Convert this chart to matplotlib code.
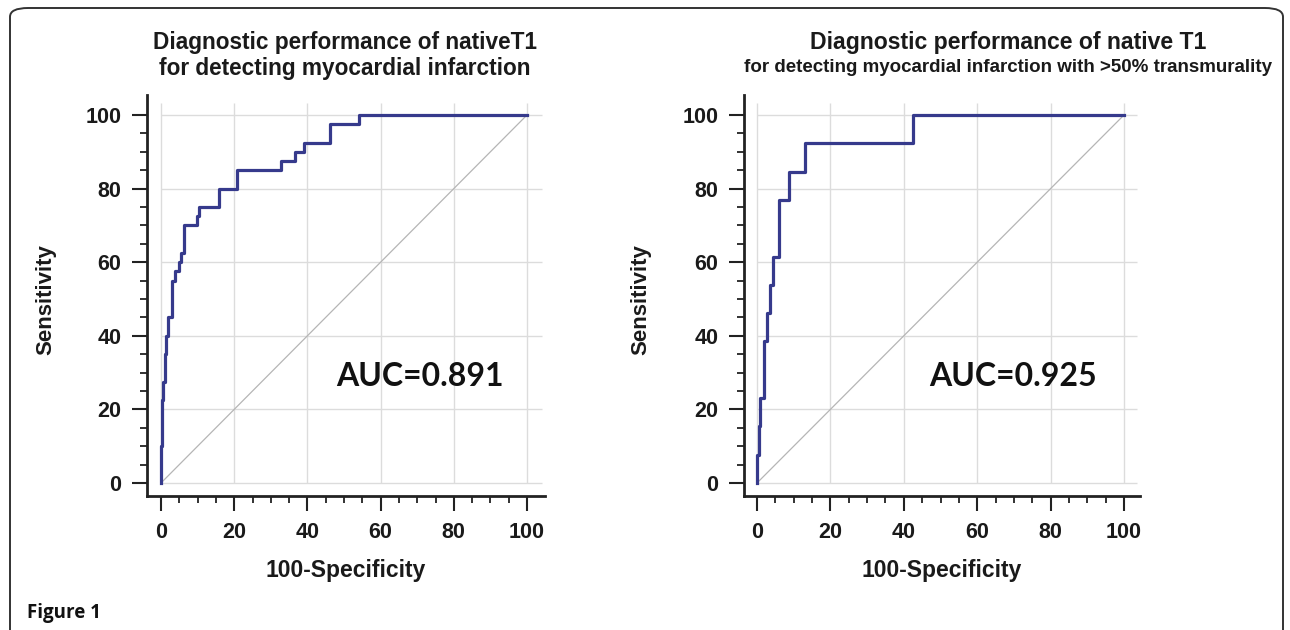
import matplotlib
matplotlib.use("Agg")
import matplotlib.pyplot as plt
from matplotlib.patches import FancyBboxPatch

# ROC operating points (100-Specificity, Sensitivity)
left_fpr = [0, 0.3, 0.5, 1.1, 1.4, 1.8, 3.1, 3.9, 5.0, 5.5, 6.4, 9.9, 10.5,
            15.9, 20.9, 32.9, 36.5, 39.1, 46.3, 54.0, 100]
left_tpr = [0, 10, 22.5, 27.5, 35, 40, 45, 55, 57.5, 60, 62.5, 70, 72.5,
            75, 80, 85, 87.5, 90, 92.5, 97.5, 100]

right_fpr = [0, 0.45, 0.9, 1.8, 2.7, 3.6, 4.3, 5.9, 8.8, 13.2, 42.5, 100]
right_tpr = [0, 7.7, 15.4, 23.1, 38.5, 46.2, 53.8, 61.5, 76.9, 84.6, 92.3, 100]

left_title = ["Diagnostic performance of nativeT1",
              "for detecting myocardial infarction"]
right_title = ["Diagnostic performance of native T1",
               "for detecting myocardial infarction with >50% transmurality"]
left_auc = "AUC=0.891"
right_auc = "AUC=0.925"

ticks = [0, 20, 40, 60, 80, 100]
minor = list(range(0, 101, 5))

W, H = 1290, 630
fig = plt.figure(figsize=(W / 100, H / 100), dpi=100)

# rounded frame around the figure
frame = FancyBboxPatch((10 / W, -20 / H), 1273 / W, 642 / H,
                       boxstyle="round,pad=0,rounding_size=0.014",
                       transform=fig.transFigure, fill=False,
                       edgecolor="#333333", linewidth=1.4)
fig.patches.append(frame)

font = "Liberation Sans"

def make_panel(left_px, right_px, x0_px, x100_px, fpr, tpr, title, title_x, title_sizes,
               auc, auc_x, ylab_x):
    b = 1 - 496 / H
    t = 1 - 95 / H
    ax = fig.add_axes([left_px / W, b, (right_px - left_px) / W, t - b])
    sx = (x100_px - x0_px) / 100
    ax.set_xlim(-(x0_px - left_px) / sx, (right_px - x0_px) / sx)
    sy = (483 - 115) / 100
    ax.set_ylim(-(496 - 483) / sy, (483 - 95) / sy)
    grid_top = (483 - 103) / sy
    grid_right = (right_px - 3 - x0_px) / sx
    ax.vlines(ticks, 0, grid_top, color="#dcdcdc", linewidth=1, zorder=0)
    ax.hlines(ticks, 0, grid_right, color="#dcdcdc", linewidth=1, zorder=0)
    ax.plot([0, 100], [0, 100], color="#b5b5b5", linewidth=0.9, zorder=1)
    ax.plot(fpr, tpr, drawstyle="steps-pre", color="#363a8c", linewidth=2.3, zorder=3)

    for s in ["top", "right"]:
        ax.spines[s].set_visible(False)
    for s in ["left", "bottom"]:
        ax.spines[s].set_linewidth(2.0)
        ax.spines[s].set_color("#222222")
    ax.set_xticks(ticks)
    ax.set_yticks(ticks)
    ax.set_xticks(minor, minor=True)
    ax.set_yticks(minor, minor=True)
    ax.tick_params(which="major", direction="out", length=10.5, width=1.5,
                   color="#222222", labelsize=15.5, pad=8)
    ax.tick_params(which="minor", direction="out", length=5, width=1.3, color="#222222")
    for lab in ax.get_xticklabels() + ax.get_yticklabels():
        lab.set_fontweight("bold")
        lab.set_fontfamily(font)
        lab.set_color("#1a1a1a")

    fig.text(ylab_x / W, 1 - 300 / H, "Sensitivity", rotation=90, ha="center", va="center",
             fontsize=16, fontweight="bold", family=font, color="#1a1a1a")
    fig.text((left_px + right_px) / 2 / W, 1 - 570 / H, "100-Specificity", ha="center",
             va="center", fontsize=16.5, fontweight="bold", family=font, color="#1a1a1a")
    for line, y_px, size in zip(title, [43, 68], title_sizes):
        fig.text(title_x / W, 1 - y_px / H, line, ha="center", va="center", fontsize=size,
                 fontweight="bold", family=font, color="#1a1a1a")
    fig.text(auc_x / W, 1 - 376 / H, auc, ha="center", va="center", fontsize=23,
             fontweight="bold", family=["Lato", "Open Sans"], color="#111111")
    return ax

make_panel(147, 545, 161, 527, left_fpr, left_tpr, left_title, 345, [16.3, 16.3],
           left_auc, 420, 46)
make_panel(744, 1140, 757, 1124, right_fpr, right_tpr, right_title, 1008, [16.6, 13.5],
           right_auc, 1013, 641)

fig.text(27 / W, 1 - 613 / H, "Figure 1", ha="left", va="center", fontsize=13.5,
         fontweight="bold", family="Open Sans", color="#111111")

fig.savefig("out.png", dpi=100)
